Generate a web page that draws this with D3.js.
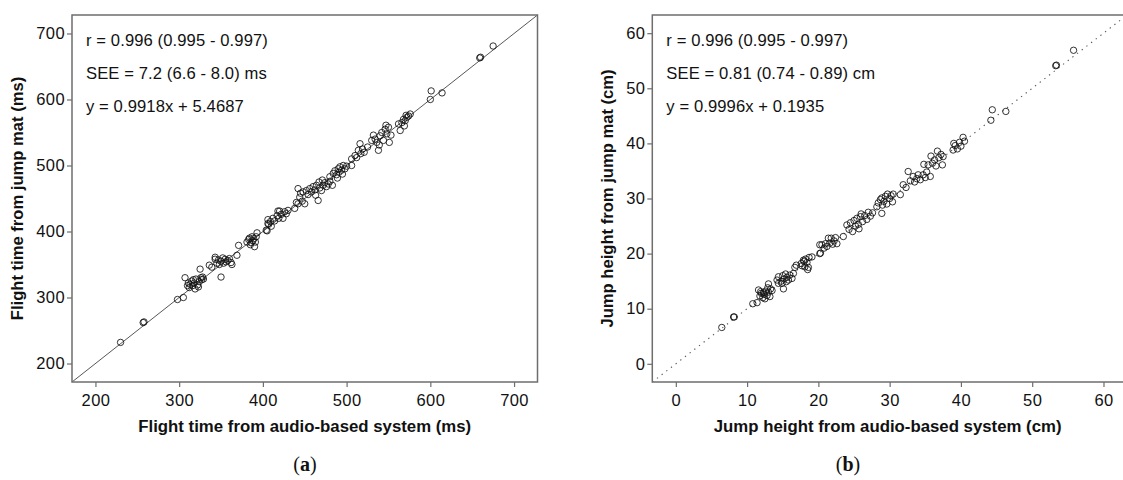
<!DOCTYPE html>
<html><head><meta charset="utf-8">
<script src="https://cdn.jsdelivr.net/npm/d3@7"></script>
<style>
html,body{margin:0;padding:0;background:#fff;}
svg{display:block;font-family:"Liberation Sans",Arial,sans-serif;}
</style></head>
<body><svg id="c" width="1123" height="480"></svg>
<script>
// ---- Panel (a): flight time (ms) ----
const flightAudio = [230,257,258,298,305,307,325,350,343,336,363,369,371,393,390,404,406,406,418,601,600,614,659,660,675,
 310,311,312,313,315,316,318,319,320,322,324,326,327,328,329,323,317,
 339,343,345,348,350,352,353,355,356,358,360,362,347,
 381,383,384,386,387,388,389,391,392,385,
 405,407,409,410,412,414,417,419,420,422,424,426,428,430,
 438,440,442,442,444,445,447,448,450,452,454,456,458,460,462,464,466,467,468,470,472,474,476,478,480,463,471,
 480,483,484,486,488,490,491,492,494,495,496,498,500,489,
 506,506,510,514,516,517,519,512,521,
 525,530,532,538,534,536,540,542,544,546,548,550,551,553,547,539,
 562,564,566,568,570,572,574,576,569,571];
const flightMat = [232,262,263,297,300,330,343,331,358,349,350,364,379,398,377,402,418,412,431,613,600,610,663,664,681,
 318,322,315,320,325,318,322,313,328,319,324,330,327,331,328,316,327,
 346,361,352,350,355,360,352,358,354,356,359,353,357,
 384,388,390,383,392,386,389,384,392,380,
 401,411,415,408,420,416,424,420,431,426,420,430,427,432,
 435,444,465,442,452,458,446,460,442,462,456,465,460,468,463,470,447,475,466,462,470,474,468,472,476,455,478,
 483,470,488,492,486,495,490,498,493,487,500,495,499,481,
 500,510,515,523,533,518,525,512,520,
 528,538,546,523,540,535,545,550,538,555,548,558,535,546,561,531,
 563,553,565,570,568,573,575,578,560,576];
const flightTicks = [200,300,400,500,600,700];

// ---- Panel (b): jump height (cm) ----
const heightAudio = [6.45,8.1,8.2,10.8,11.4,11.6,15.1,44.4,44.2,46.3,53.3,53.4,55.8,
 11.8,12.0,12.2,12.4,12.6,12.8,13.0,13.2,13.3,12.5,11.9,13.5,12.9,12.3,13.0,14.4,
 14.2,14.4,14.8,15.0,15.2,15.4,15.6,15.8,16.0,16.3,14.9,15.5,16.5,16.7,16.9,
 17.6,17.9,18.1,18.2,18.4,18.6,18.7,18.0,18.5,17.7,19.1,
 20.2,20.3,20.2,20.5,20.8,21.0,21.4,21.6,21.8,22.0,22.2,22.4,22.6,21.2,
 23.5,24.0,24.3,24.5,24.8,25.0,25.2,25.4,25.7,25.9,26.2,26.5,26.8,27.0,27.3,27.6,26.0,25.6,
 28.2,28.4,28.7,28.9,28.9,29.2,29.4,29.6,29.7,30.0,30.2,30.4,30.5,29.0,
 31.5,31.9,32.3,32.6,32.9,
 33.3,33.5,33.8,34.0,34.3,34.7,35.0,35.2,35.7,
 35.4,35.8,36.0,36.3,36.7,36.9,37.2,37.4,37.5,34.8,36.5,
 38.9,39.2,39.5,39.8,40.0,40.3,40.5,39.0];
const heightMat = [6.6,8.5,8.5,10.9,11.1,13.4,13.6,46.1,44.2,45.8,54.1,54.2,56.9,
 12.3,12.8,12.0,12.6,13.2,12.4,13.0,12.2,13.6,11.8,13.1,13.3,13.8,12.9,14.5,14.6,
 15.2,15.8,15.0,16.0,15.4,16.3,15.7,15.2,16.1,15.5,14.6,14.9,16.4,17.5,17.9,
 18.2,18.8,17.6,19.0,18.4,17.5,19.3,18.6,17.1,17.8,19.4,
 20.0,20.1,21.6,21.6,21.0,21.8,22.8,21.9,22.8,21.7,22.3,22.9,21.8,21.3,
 23.1,25.2,24.4,25.6,24.0,26.0,25.0,26.4,24.5,26.7,25.8,26.9,26.2,27.5,26.8,27.4,27.2,25.3,
 28.5,29.2,29.8,27.3,30.1,29.5,30.4,29.0,30.8,30.0,30.5,29.4,30.8,28.8,
 30.7,32.5,32.0,34.9,33.2,
 34.0,33.0,33.6,34.3,33.4,34.3,33.8,34.8,34.0,
 36.1,37.7,36.4,37.0,38.6,37.4,38.0,36.1,37.6,36.2,35.9,
 38.8,39.6,39.0,40.2,39.5,41.1,40.4,40.0];
const heightTicks = [0,10,20,30,40,50,60];

const textsA = ["r = 0.996 (0.995 - 0.997)","SEE = 7.2 (6.6 - 8.0) ms","y = 0.9918x + 5.4687"];
const textsB = ["r = 0.996 (0.995 - 0.997)","SEE = 0.81 (0.74 - 0.89) cm","y = 0.9996x + 0.1935"];

const svg = d3.select("#c");
const frameColor = "#6e6e6e";

function panel(cfg){
  const x = d3.scaleLinear().domain(cfg.domain).range([cfg.left, cfg.right]);
  const y = d3.scaleLinear().domain(cfg.domain).range([382, 15]);
  const g = svg.append("g");
  g.append("line")
    .attr("x1", x(cfg.domain[0])).attr("y1", y(cfg.domain[0]))
    .attr("x2", x(cfg.domain[1])).attr("y2", y(cfg.domain[1]))
    .attr("stroke", cfg.dashed ? "#555" : "#444").attr("stroke-width", cfg.dashed ? 1.1 : 0.9)
    .attr("stroke-dasharray", cfg.dashed ? "1.3,4.6" : null);
  g.selectAll("circle.pt").data(cfg.xs.map((v,i)=>[v,cfg.ys[i]])).join("circle")
    .attr("class","pt")
    .attr("cx", d=>x(d[0])).attr("cy", d=>y(d[1])).attr("r", 3.2)
    .attr("fill","none").attr("stroke","#111").attr("stroke-width",0.85);
  const ax = g.append("g").attr("transform","translate(0,382)")
    .call(d3.axisBottom(x).tickValues(cfg.ticks).tickSize(5).tickPadding(7).tickFormat(d3.format("d")));
  const ay = g.append("g").attr("transform",`translate(${cfg.left},0)`)
    .call(d3.axisLeft(y).tickValues(cfg.ticks).tickSize(5).tickPadding(2).tickFormat(d3.format("d")));
  [ax, ay].forEach(a=>{
    a.select(".domain").remove();
    a.selectAll(".tick line").attr("stroke", frameColor).attr("stroke-width",1.2);
    a.selectAll(".tick text").attr("fill","#111").style("font-size","16.5px")
      .style("letter-spacing","0.4px").style("font-family","'Liberation Sans',Arial,sans-serif");
  });
  g.append("rect").attr("x", cfg.left).attr("y", 15)
    .attr("width", cfg.right-cfg.left).attr("height", 367)
    .attr("fill","none").attr("stroke", frameColor).attr("stroke-width",1.5);
  g.selectAll("text.ann").data(cfg.texts).join("text").attr("class","ann")
    .attr("x", cfg.left+14).attr("y",(d,i)=>45.5+i*33)
    .attr("fill","#111").style("font-size","16.6px").style("letter-spacing","0.1px").text(d=>d);
  g.append("text").attr("x",(cfg.left+Math.min(cfg.right,1123))/2 + cfg.xtOff).attr("y",432)
    .attr("text-anchor","middle").attr("font-weight","bold").style("font-size","16.8px")
    .attr("fill","#111").text(cfg.xtitle);
  g.append("text").attr("transform",`translate(${cfg.ytx},198.5) rotate(-90)`)
    .attr("text-anchor","middle").attr("font-weight","bold").style("font-size","16.6px")
    .attr("fill","#111").text(cfg.ytitle);
  const lab = g.append("text").attr("x", cfg.labX).attr("y", 471).attr("text-anchor","middle")
    .style("font-family","'Liberation Serif','Times New Roman',serif").style("font-size","20px").attr("fill","#111");
  lab.append("tspan").text("(");
  lab.append("tspan").attr("font-weight","bold").text(cfg.lab);
  lab.append("tspan").text(")");
}

panel({domain:[172,728], left:72, right:537.5, ticks:flightTicks, xs:flightAudio, ys:flightMat,
  dashed:false, texts:textsA, xtitle:"Flight time from audio-based system (ms)", xtOff:0,
  ytitle:"Flight time from jump mat (ms)", ytx:23, labX:305, lab:"a"});
panel({domain:[-3.3,63.3], left:652.3, right:1127, ticks:heightTicks, xs:heightAudio, ys:heightMat,
  dashed:true, texts:textsB, xtitle:"Jump height from audio-based system (cm)", xtOff:0,
  ytitle:"Jump height from jump mat (cm)", ytx:613, labX:848, lab:"b"});
</script>
</body></html>
